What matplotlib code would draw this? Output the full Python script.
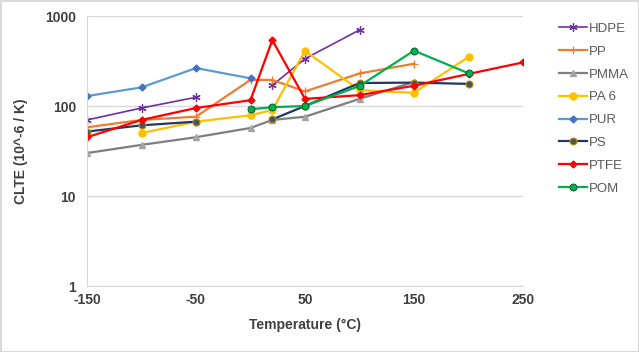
import numpy as np
import matplotlib.pyplot as plt

plt.rcParams['font.family'] = ['Liberation Sans', 'DejaVu Sans']
plt.rcParams['axes.unicode_minus'] = False

nan = np.nan

# Temperatures (°C) and CLTE values (10^-6 / K); NaN = break in the line
hdpe_t = [-150, -100, -50, 0, 20, 50, 100]
hdpe_v = [70, 95, 125, nan, 170, 335, 700]

pp_t = [-150, -100, -50, 0, 20, 50, 100, 150]
pp_v = [58, 70, 76, 195, 195, 145, 230, 295]

pmma_t = [-150, -100, -50, 0, 20, 50, 100, 150]
pmma_v = [30, 37, 45, 57, 70, 76, 120, 185]

pa6_t = [-100, -50, 0, 20, 50, 100, 150, 200]
pa6_v = [50, 67, 79, 90, 410, 150, 140, 350]

pur_t = [-150, -100, -50, 0]
pur_v = [129, 161, 264, 203]

ps_t = [-150, -100, -50, 0, 20, 50, 100, 150, 200]
ps_v = [52, 61, 67, nan, 71, 100, 180, 182, 176]

ptfe_t = [-150, -100, -50, 0, 20, 50, 100, 150, 200, 250]
ptfe_v = [45, 70, 95, 116, 540, 120, 132, 168, 227, 305]

pom_t = [0, 20, 50, 100, 150, 200]
pom_v = [92, 97, 100, 167, 412, 231]

fig = plt.figure(figsize=(6.39, 3.52), dpi=100, linewidth=1, edgecolor='#D9D9D9')
ax = fig.add_axes([87 / 639, 1 - 286 / 352, (523 - 87) / 639, (286 - 16) / 352])

lw = 1.6
ax.plot(hdpe_t, hdpe_v, color='#7030A0', lw=1.2, marker=(6, 2, 0), ms=6,
        mec='#7030A0', mew=0.9, label='HDPE')
ax.plot(pp_t, pp_v, color='#ED7D31', lw=lw, marker='+', ms=6,
        mec='#ED7D31', mew=0.9, label='PP')
ax.plot(pmma_t, pmma_v, color='#7F7F7F', lw=lw, marker='^', ms=5,
        mfc='#A5A5A5', mec='#A5A5A5', label='PMMA')
ax.plot(pa6_t, pa6_v, color='#FFC000', lw=lw, marker='o', ms=5,
        mfc='#FFC000', mec='#FFC000', label='PA 6')
ax.plot(pur_t, pur_v, color='#5B9BD5', lw=lw, marker='D', ms=3.5,
        mfc='#4472C4', mec='#4472C4', label='PUR')
ax.plot(ps_t, ps_v, color='#203864', lw=lw, marker='o', ms=5,
        mfc='#44546A', mec='#BF9000', mew=0.8, label='PS')
ax.plot(ptfe_t, ptfe_v, color='#FF0000', lw=lw, marker='D', ms=3.5,
        mfc='#FF0000', mec='#FF0000', label='PTFE')
ax.plot(pom_t, pom_v, color='#00B050', lw=lw, marker='o', ms=5,
        mfc='#00B050', mec='#00602B', mew=0.7, label='POM')

ax.set_yscale('log')
ax.set_ylim(1, 1000)
ax.set_xlim(-150, 250)
ax.set_xticks([-150, -50, 50, 150, 250])
ax.set_yticks([1, 10, 100, 1000])
ax.set_yticklabels(['1', '10', '100', '1000'])
ax.minorticks_off()
ax.grid(axis='y', color='#D9D9D9', lw=1)
ax.set_axisbelow(True)

for s in ['top', 'right']:
    ax.spines[s].set_visible(False)
for s in ['left', 'bottom']:
    ax.spines[s].set_color('#D9D9D9')
ax.tick_params(axis='x', length=0, labelsize=10, labelcolor='#404040', pad=5)
ax.tick_params(axis='y', length=0, labelsize=10, labelcolor='#404040', pad=8)
for lab in ax.get_xticklabels() + ax.get_yticklabels():
    lab.set_fontweight('bold')

ax.set_xlabel('Temperature (°C)', fontsize=10, fontweight='bold', color='#404040', labelpad=8)
ax.set_ylabel('CLTE (10^-6 / K)', fontsize=10, fontweight='bold', color='#404040', labelpad=12)

leg = fig.legend(loc='upper left', bbox_to_anchor=(547 / 639, 1 - 11 / 352),
                 frameon=False, fontsize=9.5, handlelength=2.1, labelspacing=0.8,
                 handletextpad=0.2, labelcolor='#595959')

fig.savefig('out.png', dpi=100)
